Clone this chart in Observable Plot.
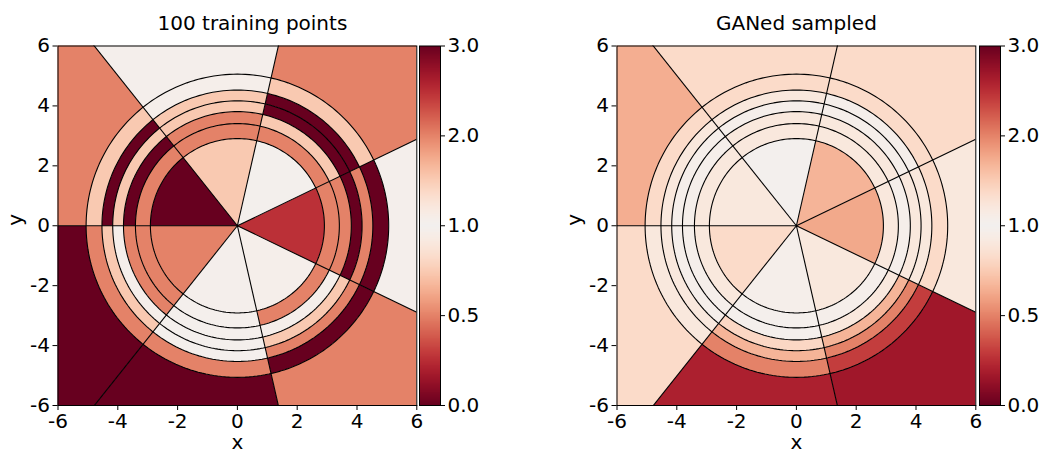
<!DOCTYPE html>
<html><head><meta charset="utf-8">
<script src="https://cdn.jsdelivr.net/npm/d3@7"></script>
<script src="https://cdn.jsdelivr.net/npm/@observablehq/plot@0.6"></script>
<style>
body{margin:0;background:#fff;}
#wrap{position:relative;width:1040px;height:453px;overflow:hidden;background:#fff}
#wrap svg{position:absolute;top:0;overflow:visible}
</style></head><body><div id="wrap"></div>
<script>
// ---- data ----
const titles = ["100 training points", "GANed sampled"];
// ring boundaries (last ring runs out to the frame)
const radii = [0, 2.91, 3.41, 3.81, 4.17, 4.53, 5.06, 12];
// sector start angles in degrees (each sector is 360/7 wide)
const sectorStart = [-180, -128.571, -77.143, -25.714, 25.714, 77.143, 128.571];
const sectorWidth = 51.4286;
const axisTicks = [-6, -4, -2, 0, 2, 4, 6];
const cbarTicks = [0, 0.5, 1, 2, 3];
const cbarLabels = ["0.0", "0.5", "1.0", "2.0", "3.0"];
// rows: ring 0 (inner) .. ring 6 (outer); columns: sectors in sectorStart order
const trainValues = [
  [0.5, 1.05, 0.97, 0.26, 1.03, 0.74, 0],
  [0.5, 1.04, 0.5, 0.5, 0.5, 0.5, 0.5],
  [0.5, 1.04, 0.97, 0.5, 0.74, 0.5, 0],
  [0.97, 1.04, 0.74, 0, 0, 0.74, 0.74],
  [0.74, 1.04, 0.5, 0.5, 0, 0.74, 0],
  [0.5, 0.5, 0, 0, 0.74, 0.97, 0.74],
  [0, 0, 0.5, 1.05, 0.5, 1.05, 0.5]
];
const ganValues = [
  [0.82, 0.97, 0.9, 0.62, 0.66, 1.02, 0.9],
  [0.9, 0.98, 0.97, 0.9, 0.9, 0.9, 0.9],
  [0.97, 0.98, 0.9, 0.97, 0.9, 0.9, 0.97],
  [0.97, 0.8, 0.66, 0.9, 0.97, 0.97, 0.97],
  [0.9, 0.66, 0.5, 0.9, 0.97, 0.9, 0.9],
  [0.9, 0.5, 0.3, 0.82, 0.82, 0.82, 0.82],
  [0.82, 0.2, 0.16, 0.9, 0.82, 0.82, 0.64]
];

// ---- helpers ----
const N = 48;
const rad = d => d * Math.PI / 180;
function binPolygons(values) {
  const pts = [];
  values.forEach((row, i) => row.forEach((v, j) => {
    const r0 = radii[i], r1 = radii[i + 1];
    const a0 = sectorStart[j], a1 = a0 + sectorWidth;
    const id = i + "-" + j;
    for (let k = 0; k <= N; k++) {
      const a = rad(a0 + (a1 - a0) * k / N);
      pts.push({id, v, x: r1 * Math.cos(a), y: r1 * Math.sin(a)});
    }
    if (r0 === 0) pts.push({id, v, x: 0, y: 0});
    else for (let k = N; k >= 0; k--) {
      const a = rad(a0 + (a1 - a0) * k / N);
      pts.push({id, v, x: r0 * Math.cos(a), y: r0 * Math.sin(a)});
    }
  }));
  return pts;
}
function circlePoints() {
  const pts = [];
  radii.slice(1, -1).forEach((r, i) => {
    for (let k = 0; k <= 240; k++) {
      const a = 2 * Math.PI * k / 240;
      pts.push({id: i, x: r * Math.cos(a), y: r * Math.sin(a)});
    }
  });
  return pts;
}
const spokes = sectorStart.map(a => ({x2: 12 * Math.cos(rad(a)), y2: 12 * Math.sin(rad(a))}));

const colorOpts = {
  type: "diverging", pivot: 1, domain: [0, 3], symmetric: false,
  interpolate: t => d3.interpolateRdBu(0.5 - Math.abs(t - 0.5))
};
const font = {fontFamily: "DejaVu Sans, sans-serif", fontSize: "20px", color: "black", background: "transparent", overflow: "visible"};

function panel(values, title, titleDx) {
  return Plot.plot({
    width: 520, height: 453,
    marginLeft: 57.5, marginRight: 103.7, marginTop: 45.5, marginBottom: 48,
    x: {domain: [-6, 6], ticks: axisTicks, tickFormat: d => String(d), tickSize: 5, tickPadding: 3, label: null},
    y: {domain: [-6, 6], ticks: axisTicks, tickFormat: d => String(d), tickSize: 5, tickPadding: 3, label: null},
    color: colorOpts,
    style: font,
    marks: [
      Plot.line(binPolygons(values), {x: "x", y: "y", z: "id", fill: "v", stroke: "none", clip: true}),
      Plot.line(circlePoints(), {x: "x", y: "y", z: "id", stroke: "black", strokeWidth: 1.1}),
      Plot.link(spokes, {x1: 0, y1: 0, x2: "x2", y2: "y2", stroke: "black", strokeWidth: 1.1, clip: true}),
      Plot.frame({stroke: "black", strokeWidth: 1}),
      Plot.text([title], {frameAnchor: "top", dx: titleDx, dy: -22.5, lineAnchor: "middle", fontSize: 20}),
      Plot.text(["x"], {frameAnchor: "bottom", dy: 37.5, lineAnchor: "middle", fontSize: 20}),
      Plot.text(["y"], {frameAnchor: "left", dx: -42, rotate: -90, lineAnchor: "middle", fontSize: 20})
    ]
  });
}

// colour-bar position: two linear halves, 0..1 and 1..3, each taking half the bar
const norm = d3.scaleLinear().domain([0, 1, 3]).range([0, 0.5, 1]);
const levels = d3.range(0, 3, 0.005);
function colorbar() {
  return Plot.plot({
    width: 81, height: 453,
    marginLeft: 0, marginRight: 60, marginTop: 45.5, marginBottom: 48,
    x: {domain: [0, 1], axis: null},
    y: {domain: [0, 1], axis: null},
    color: colorOpts,
    style: font,
    marks: [
      Plot.rect(levels, {x1: 0, x2: 1, y1: d => norm(d), y2: d => norm(Math.min(3, d + 0.04)), fill: d => d + 0.0025, shapeRendering: "crispEdges"}),
      Plot.frame({stroke: "black", strokeWidth: 1}),
      Plot.axisY(cbarTicks.map(norm), {anchor: "right", tickFormat: (d, i) => cbarLabels[i], tickSize: 4, tickPadding: 3, label: null})
    ]
  });
}

const wrap = document.getElementById("wrap");
const p1 = panel(trainValues, titles[0], 15); p1.style.left = "0px";
const c1 = colorbar(); c1.style.left = "419.3px";
const p2 = panel(ganValues, titles[1], 0); p2.style.left = "559px";
const c2 = colorbar(); c2.style.left = "979.3px";
wrap.append(p1, c1, p2, c2);
</script></body></html>
